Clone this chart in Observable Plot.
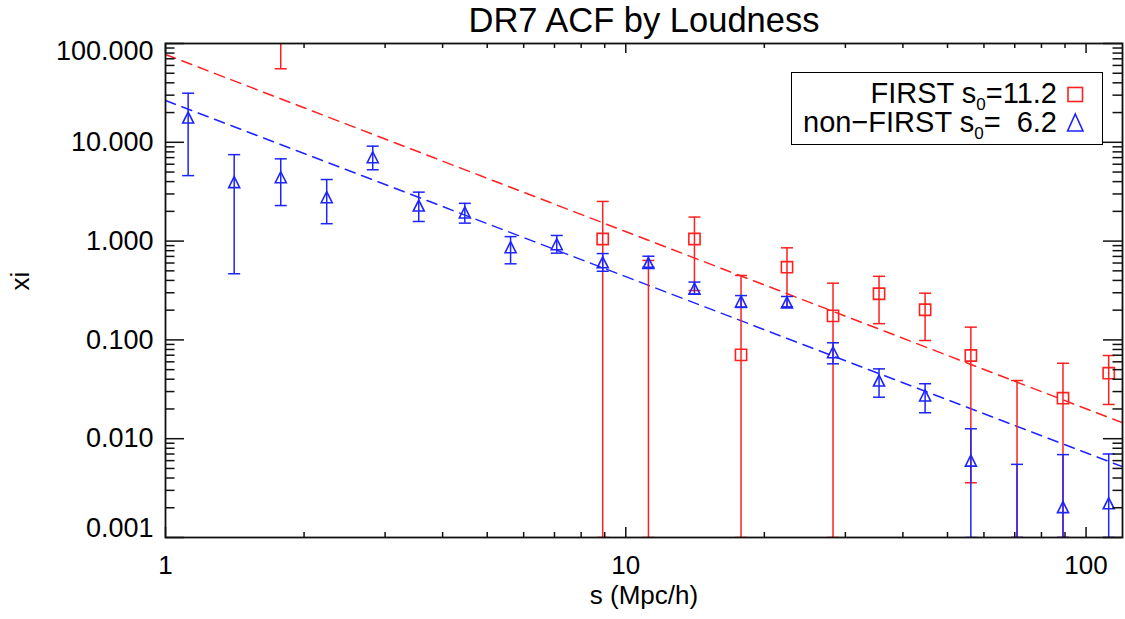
<!DOCTYPE html>
<html>
<head>
<meta charset="utf-8">
<script src="https://cdn.jsdelivr.net/npm/d3@7"></script>
<script src="https://cdn.jsdelivr.net/npm/@observablehq/plot@0.6"></script>
<style>
  html, body { margin: 0; padding: 0; background: #fff; }
  #wrap { position: relative; width: 1125px; height: 619px; overflow: hidden;
          font-family: "Liberation Sans", Arial, Helvetica, sans-serif; color: #000; }
  #legend { position: absolute; left: 791px; top: 72px; width: 312px; height: 73px;
            border: 1.5px solid #000; box-sizing: border-box; background: #fff; }
  .lg { position: absolute; right: 68px; font-size: 29px; line-height: 29px; white-space: pre; }
  .sub { font-size: 17px; position: relative; top: 7px; }
  #legsym { position: absolute; left: 0; top: 0; pointer-events: none; }
</style>
</head>
<body>
<div id="wrap"></div>
<script>
// ---- data ----
const s = [1.12, 1.41, 1.78, 2.24, 2.82, 3.55, 4.47, 5.62, 7.08, 8.91, 11.2,
           14.1, 17.8, 22.4, 28.2, 35.5, 44.7, 56.2, 70.8, 89.1, 112];

// FIRST (radio-loud) sample: xi and error-bar ends (null = not shown; 0.001 = bar reaches the axis floor)
const firstXi = [null, null, null, null, null, null, null, null, null, 1.05, null,
                 1.05, 0.0706, 0.544, 0.175, 0.293, 0.202, 0.0695, null, 0.0257, 0.046];
const firstLo = [null, null, 55.5, null, null, null, null, null, null, 0.001, 0.001,
                 0.316, 0.001, 0.214, 0.001, 0.146, 0.0986, 0.00358, 0.001, 0.001, 0.0222];
const firstHi = [null, null, 1000, null, null, null, null, null, null, 2.52, 0.637,
                 1.75, 0.449, 0.855, 0.375, 0.44, 0.297, 0.1346, 0.0388, 0.058, 0.0695];

// non-FIRST sample
const nonXi = [17.8, 3.95, 4.43, 2.78, 7.06, 2.29, 1.95, 0.867, 0.93, 0.61, 0.60,
               0.33, 0.245, 0.24, 0.075, 0.0388, 0.0274, 0.0060, null, 0.00203, 0.00222];
const nonLo = [4.6, 0.467, 2.29, 1.5, 5.27, 1.58, 1.52, 0.589, 0.755, 0.495, 0.544,
               0.29, 0.213, 0.216, 0.0573, 0.0263, 0.0183, 0.001, 0.001, 0.001, 0.001];
const nonHi = [31.4, 7.5, 6.8, 4.2, 9.14, 3.13, 2.41, 1.11, 1.14, 0.748, 0.703,
               0.385, 0.281, 0.275, 0.0935, 0.0509, 0.036, 0.0126, 0.0055, 0.0069, 0.0070];

// power-law fits (straight lines in log-log), end points
const fitS = [1, 120];
const firstFit = [77.4, 0.0145];
const nonFirstFit = [26.5, 0.0052];

// axis ticks
const xMajor = [1, 10, 100];
const xLabels = ["1", "10", "100"];
const yMajor = [0.001, 0.01, 0.1, 1, 10, 100];
const yLabels = ["0.001", "0.010", "0.100", "1.000", "10.000", "100.000"];

const titleText = "DR7 ACF by Loudness";
const xTitle = "s (Mpc/h)";
const yTitle = "xi";

// ---- build ----
const RED = "rgb(255,32,32)", BLUE = "rgb(28,36,255)";
const W = 1125, H = 619, mL = 165, mR = 3, mT = 43, mB = 82;
const fw = W - mL - mR, fh = H - mT - mB;

const xMinor = [], yMinor = [];
for (const d of [1, 10]) for (let k = 2; k <= 9; k++) xMinor.push(k * d);
for (const d of [0.001, 0.01, 0.1, 1, 10]) for (let k = 2; k <= 9; k++) yMinor.push(+(k * d).toPrecision(3));

const rows = (xi, lo, hi) => s.map((v, i) => ({s: v, xi: xi[i], lo: lo[i], hi: hi[i]}));
const firstRows = rows(firstXi, firstLo, firstHi);
const nonRows = rows(nonXi, nonLo, nonHi);
const fitRows = (ys) => fitS.map((v, i) => ({s: v, xi: ys[i]}));

const cap = {draw(ctx) { ctx.moveTo(-6, 0); ctx.lineTo(6, 0); }};
const tri = {draw(ctx) { const h = 5.5; ctx.moveTo(0, -h); ctx.lineTo(h, h); ctx.lineTo(-h, h); ctx.closePath(); }};
const sq = {draw(ctx) { const h = 5.6; ctx.rect(-h, -h, 2 * h, 2 * h); }};

function series(data, color, symbol) {
  const d = data.filter(r => r.lo != null || r.xi != null);
  return [
    Plot.ruleX(d, {x: "s", y1: "lo", y2: "hi", stroke: color, strokeWidth: 1.5, clip: true}),
    Plot.dot(d, {x: "s", y: "lo", symbol: cap, fill: "none", stroke: color, strokeWidth: 1.5, clip: true}),
    Plot.dot(d, {x: "s", y: "hi", symbol: cap, fill: "none", stroke: color, strokeWidth: 1.5, clip: true}),
    Plot.dot(d.filter(r => r.xi != null), {x: "s", y: "xi", symbol, fill: "none", stroke: color, strokeWidth: 1.6, clip: true})
  ];
}

const tickStyle = {stroke: "#111", strokeWidth: 1.5};
const fmtY = d => yLabels[yMajor.indexOf(d)];
const fmtX = d => xLabels[xMajor.indexOf(d)];

const chart = Plot.plot({
  width: W, height: H,
  marginLeft: mL, marginRight: mR, marginTop: mT, marginBottom: mB,
  style: {fontFamily: '"Liberation Sans", Arial, Helvetica, sans-serif', fontSize: "26px", color: "#000", background: "#fff", overflow: "visible"},
  x: {type: "log", domain: [1, 120], axis: null},
  y: {type: "log", domain: [0.001, 100], axis: null},
  marks: [
    Plot.line(fitRows(firstFit), {x: "s", y: "xi", stroke: RED, strokeWidth: 1.5, strokeDasharray: "10.5,7", clip: true}),
    Plot.line(fitRows(nonFirstFit), {x: "s", y: "xi", stroke: BLUE, strokeWidth: 1.5, strokeDasharray: "10.5,7", clip: true}),
    ...series(firstRows, RED, sq),
    ...series(nonRows, BLUE, tri),
    // inward ticks on all four sides
    Plot.ruleY(yMajor, {...tickStyle, insetRight: fw - 19}),
    Plot.ruleY(yMinor, {...tickStyle, insetRight: fw - 9.5}),
    Plot.ruleY(yMajor, {...tickStyle, insetLeft: fw - 19}),
    Plot.ruleY(yMinor, {...tickStyle, insetLeft: fw - 9.5}),
    Plot.ruleX(xMajor, {...tickStyle, insetTop: fh - 10}),
    Plot.ruleX(xMinor, {...tickStyle, insetTop: fh - 5}),
    Plot.ruleX(xMajor, {...tickStyle, insetBottom: fh - 10}),
    Plot.ruleX(xMinor, {...tickStyle, insetBottom: fh - 5}),
    Plot.frame({stroke: "#111", strokeWidth: 1.8}),
    // tick labels
    Plot.axisX(xMajor, {tickSize: 0, tickPadding: 18, tickFormat: fmtX, fontSize: 26, label: null}),
    Plot.axisY(yMajor.slice(1, 5), {tickSize: 0, tickPadding: 12, tickFormat: fmtY, fontSize: 27, label: null}),
    Plot.axisY([yMajor[5]], {tickSize: 0, tickPadding: 12, tickFormat: fmtY, fontSize: 27, label: null, dy: 8}),
    Plot.axisY([yMajor[0]], {tickSize: 0, tickPadding: 12, tickFormat: fmtY, fontSize: 27, label: null, dy: -9}),
    // titles
    Plot.text([titleText], {text: d => d, frameAnchor: "top", lineAnchor: "bottom", dy: -12, fontSize: 34.5}),
    Plot.text([xTitle], {text: d => d, frameAnchor: "bottom", lineAnchor: "bottom", dy: 66, fontSize: 26}),
    Plot.text([yTitle], {text: d => d, frameAnchor: "left", lineAnchor: "bottom", rotate: -90, dx: -137, fontSize: 26})
  ]
});

const wrap = document.getElementById("wrap");
wrap.appendChild(chart);

// legend (HTML overlay)
const legend = document.createElement("div");
legend.id = "legend";
wrap.appendChild(legend);
const l1 = document.createElement("div");
l1.className = "lg"; l1.style.top = "79px";
l1.innerHTML = 'FIRST s<span class="sub">0</span>=11.2';
const l2 = document.createElement("div");
l2.className = "lg"; l2.style.top = "108px";
l2.innerHTML = 'non\u2212FIRST s<span class="sub">0</span>=  6.2';
wrap.appendChild(l1); wrap.appendChild(l2);
const ns = "http://www.w3.org/2000/svg";
const sym = document.createElementNS(ns, "svg");
sym.setAttribute("id", "legsym");
sym.setAttribute("width", W); sym.setAttribute("height", H);
sym.innerHTML =
  `<rect x="1068" y="87.5" width="14.5" height="14" fill="none" stroke="${RED}" stroke-width="1.6"/>` +
  `<path d="M1075.3,114 L1083,131 L1067.6,131 Z" fill="none" stroke="${BLUE}" stroke-width="1.6"/>`;
wrap.appendChild(sym);
</script>
</body>
</html>
